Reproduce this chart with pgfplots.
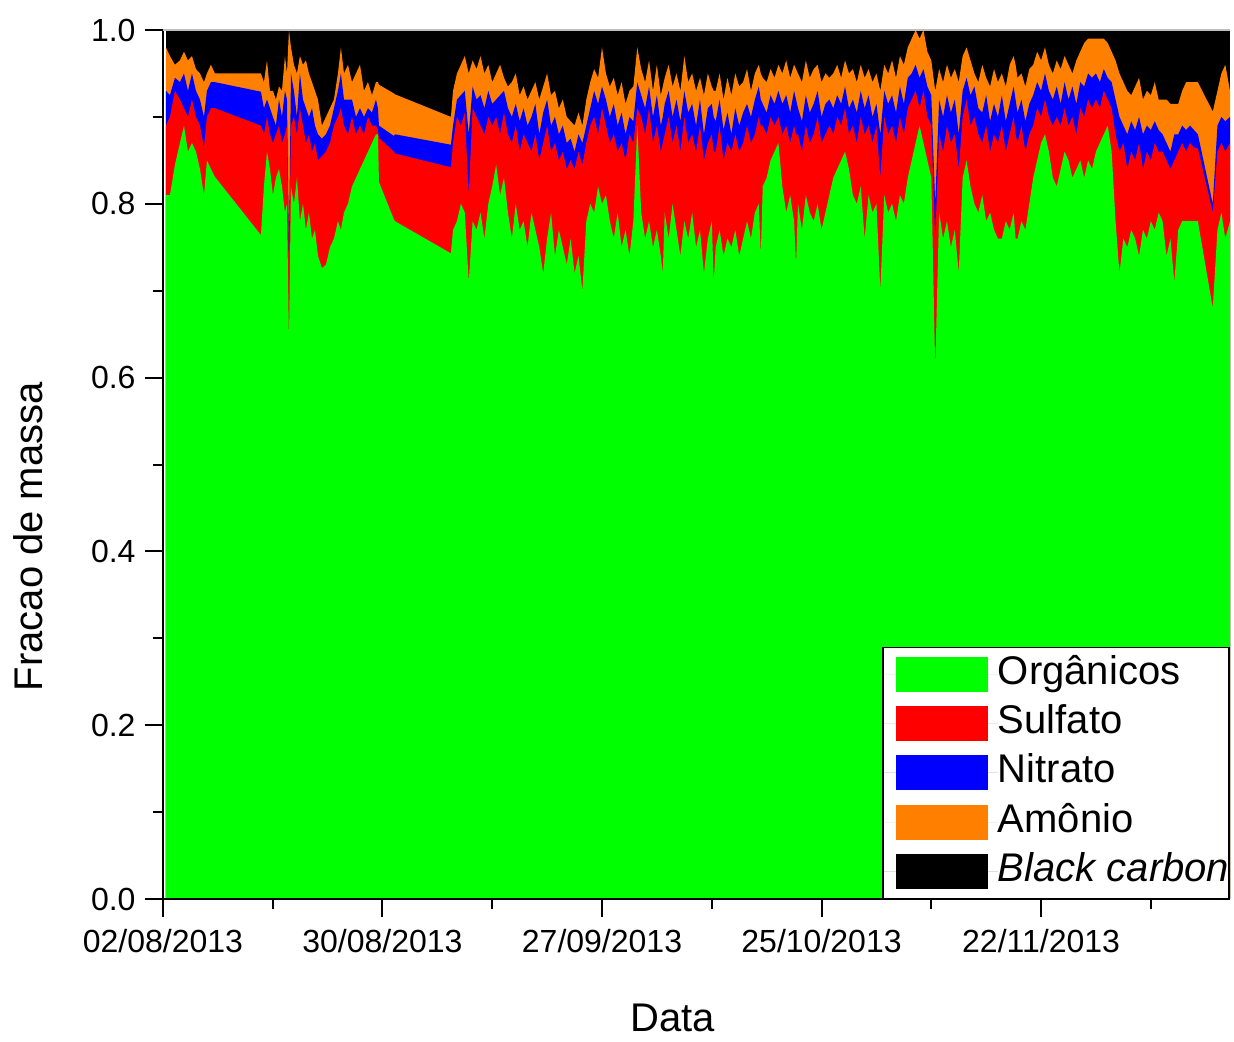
\documentclass[border=0pt]{standalone}
\usepackage{fontspec}
\setmainfont{Liberation Sans}
\usepackage{pgfplots}
\usepackage{pgfplotstable}
\pgfplotsset{compat=1.18}
\definecolor{cgreen}{RGB}{0,255,0}
\definecolor{cred}{RGB}{255,0,0}
\definecolor{cblue}{RGB}{0,0,255}
\definecolor{corange}{RGB}{255,128,0}
% d = days since 02/08/2013; G, R, B, O = cumulative tops of Organicos, +Sulfato, +Nitrato, +Amonio
\pgfplotstableread{
d G R B O
0.38 0.810 0.890 0.930 0.980
0.89 0.810 0.900 0.925 0.970
1.53 0.845 0.930 0.945 0.960
2.17 0.870 0.920 0.940 0.965
2.68 0.890 0.910 0.950 0.975
3.19 0.860 0.900 0.930 0.965
3.70 0.870 0.920 0.950 0.970
4.21 0.860 0.900 0.930 0.955
4.72 0.840 0.890 0.920 0.950
5.23 0.810 0.865 0.900 0.940
5.61 0.850 0.900 0.930 0.950
6.12 0.840 0.910 0.940 0.960
6.63 0.831 0.910 0.940 0.950
12.50 0.764 0.890 0.929 0.950
12.88 0.820 0.880 0.910 0.940
13.27 0.860 0.900 0.920 0.965
13.65 0.840 0.880 0.910 0.930
14.03 0.810 0.870 0.900 0.930
14.41 0.830 0.880 0.890 0.920
14.80 0.840 0.890 0.920 0.935
15.18 0.820 0.870 0.900 0.930
15.56 0.790 0.880 0.930 0.970
15.82 0.800 0.890 0.920 0.950
16.07 0.640 0.730 0.750 1.000
16.33 0.820 0.890 0.950 0.980
16.71 0.800 0.900 0.930 0.960
17.09 0.830 0.880 0.900 0.950
17.47 0.780 0.910 0.950 0.970
17.86 0.800 0.890 0.920 0.960
18.24 0.770 0.870 0.910 0.965
18.62 0.790 0.880 0.900 0.950
19.01 0.760 0.860 0.910 0.940
19.39 0.770 0.870 0.890 0.930
19.77 0.740 0.850 0.880 0.920
20.28 0.726 0.855 0.875 0.890
20.79 0.730 0.860 0.880 0.900
21.30 0.750 0.870 0.890 0.910
21.81 0.760 0.890 0.910 0.920
22.32 0.780 0.900 0.930 0.950
22.70 0.770 0.910 0.950 0.980
23.09 0.790 0.890 0.920 0.950
23.60 0.800 0.880 0.920 0.960
24.11 0.820 0.900 0.920 0.940
24.62 0.830 0.880 0.900 0.950
25.13 0.840 0.890 0.910 0.960
25.64 0.850 0.880 0.900 0.930
26.15 0.860 0.900 0.910 0.940
26.66 0.870 0.890 0.905 0.925
27.17 0.880 0.890 0.920 0.940
27.42 0.880 0.885 0.910 0.940
27.55 0.825 0.876 0.890 0.937
29.46 0.782 0.860 0.878 0.927
29.59 0.780 0.858 0.880 0.926
36.73 0.743 0.842 0.868 0.900
37.0 0.770 0.870 0.890 0.930
37.5 0.780 0.900 0.920 0.950
38.0 0.800 0.890 0.925 0.960
38.5 0.790 0.905 0.930 0.970
39.0 0.710 0.810 0.880 0.950
39.5 0.780 0.910 0.935 0.965
40.0 0.770 0.900 0.920 0.955
40.5 0.790 0.890 0.925 0.970
41.0 0.760 0.880 0.910 0.950
41.5 0.800 0.900 0.930 0.960
42.0 0.820 0.890 0.915 0.940
42.5 0.845 0.900 0.920 0.950
43.0 0.810 0.880 0.925 0.960
43.5 0.830 0.905 0.930 0.945
44.0 0.790 0.880 0.910 0.935
44.5 0.760 0.870 0.900 0.940
45.0 0.800 0.890 0.915 0.950
45.5 0.770 0.860 0.895 0.925
46.0 0.780 0.880 0.910 0.935
46.5 0.750 0.870 0.890 0.920
47.0 0.790 0.860 0.900 0.930
47.5 0.770 0.880 0.915 0.940
48.0 0.750 0.850 0.880 0.920
48.5 0.720 0.870 0.905 0.935
49.0 0.760 0.890 0.920 0.950
49.5 0.790 0.860 0.890 0.925
50.0 0.740 0.870 0.900 0.930
50.5 0.770 0.850 0.880 0.910
51.0 0.750 0.860 0.890 0.920
51.5 0.730 0.840 0.870 0.900
52.0 0.760 0.850 0.875 0.895
52.5 0.720 0.840 0.860 0.890
53.0 0.740 0.860 0.880 0.905
53.5 0.700 0.845 0.870 0.890
54.0 0.780 0.870 0.890 0.920
54.5 0.800 0.890 0.910 0.940
55.0 0.790 0.900 0.930 0.955
55.5 0.820 0.880 0.915 0.945
56.0 0.800 0.910 0.935 0.980
56.5 0.810 0.890 0.920 0.950
57.0 0.780 0.870 0.900 0.935
57.5 0.760 0.880 0.915 0.945
58.0 0.790 0.860 0.890 0.925
58.5 0.750 0.870 0.905 0.940
59.0 0.770 0.850 0.880 0.915
59.5 0.740 0.880 0.900 0.930
60.0 0.780 0.870 0.895 0.935
60.5 0.890 0.910 0.940 0.980
61.0 0.790 0.900 0.925 0.955
61.5 0.760 0.880 0.910 0.940
62.0 0.780 0.910 0.935 0.965
62.5 0.750 0.870 0.900 0.930
63.0 0.770 0.890 0.925 0.960
63.5 0.740 0.860 0.890 0.925
63.75 0.720 0.870 0.900 0.935
64.0 0.790 0.880 0.915 0.945
64.5 0.760 0.900 0.930 0.960
65.0 0.800 0.870 0.900 0.935
65.5 0.770 0.890 0.920 0.950
66.0 0.740 0.860 0.895 0.930
66.5 0.780 0.900 0.930 0.970
67.0 0.760 0.870 0.905 0.940
67.5 0.790 0.880 0.915 0.950
68.0 0.750 0.860 0.890 0.930
68.5 0.770 0.890 0.920 0.945
69.0 0.720 0.850 0.880 0.925
69.5 0.760 0.870 0.910 0.950
70.0 0.780 0.880 0.915 0.935
70.25 0.710 0.860 0.900 0.930
70.5 0.750 0.860 0.895 0.930
71.0 0.770 0.890 0.920 0.950
71.5 0.740 0.850 0.885 0.920
72.0 0.760 0.870 0.905 0.945
72.5 0.750 0.860 0.880 0.925
73.0 0.770 0.880 0.910 0.950
73.5 0.740 0.860 0.890 0.935
74.0 0.760 0.870 0.905 0.940
74.5 0.780 0.890 0.915 0.955
75.0 0.760 0.870 0.900 0.930
75.5 0.790 0.880 0.920 0.950
76.0 0.800 0.900 0.935 0.960
76.25 0.740 0.890 0.920 0.950
76.5 0.820 0.890 0.915 0.945
77.0 0.830 0.880 0.905 0.940
77.5 0.850 0.900 0.925 0.955
78.0 0.860 0.890 0.915 0.945
78.5 0.870 0.900 0.930 0.960
79.0 0.820 0.880 0.915 0.950
79.5 0.790 0.890 0.925 0.965
80.0 0.810 0.870 0.905 0.945
80.5 0.780 0.890 0.930 0.960
80.75 0.730 0.880 0.920 0.955
81.0 0.800 0.880 0.910 0.950
81.5 0.770 0.860 0.895 0.940
82.0 0.810 0.890 0.925 0.965
82.5 0.790 0.870 0.905 0.945
83.0 0.780 0.880 0.915 0.955
83.5 0.800 0.900 0.930 0.960
84.0 0.770 0.870 0.900 0.940
84.5 0.790 0.880 0.915 0.950
85.0 0.810 0.890 0.920 0.945
85.5 0.830 0.880 0.910 0.950
86.0 0.840 0.900 0.925 0.960
86.5 0.850 0.890 0.915 0.945
87.0 0.860 0.910 0.935 0.965
87.5 0.840 0.880 0.910 0.950
88.0 0.810 0.890 0.920 0.955
88.5 0.800 0.870 0.905 0.940
89.0 0.820 0.900 0.930 0.960
89.5 0.760 0.880 0.910 0.945
90.0 0.810 0.890 0.925 0.955
90.5 0.790 0.870 0.900 0.940
91.0 0.800 0.890 0.915 0.950
91.5 0.700 0.830 0.880 0.930
92.0 0.810 0.900 0.930 0.960
92.5 0.790 0.880 0.915 0.950
93.0 0.800 0.890 0.925 0.965
93.5 0.780 0.870 0.905 0.945
94.0 0.810 0.900 0.935 0.970
94.5 0.800 0.880 0.915 0.960
95.0 0.830 0.910 0.945 0.980
95.5 0.850 0.920 0.950 0.990
96.0 0.870 0.930 0.960 1.000
96.5 0.890 0.910 0.945 0.990
97.0 0.870 0.930 0.955 1.000
97.5 0.850 0.900 0.935 0.975
98.0 0.830 0.890 0.925 0.965
98.5 0.610 0.760 0.800 0.930
99.0 0.790 0.880 0.920 0.955
99.5 0.760 0.860 0.900 0.940
100.0 0.780 0.890 0.925 0.960
100.5 0.750 0.870 0.905 0.945
101.0 0.770 0.880 0.920 0.955
101.5 0.720 0.840 0.880 0.940
102.0 0.830 0.900 0.930 0.970
102.5 0.850 0.920 0.945 0.980
103.0 0.820 0.890 0.925 0.965
103.5 0.800 0.900 0.935 0.950
104.0 0.790 0.880 0.910 0.940
104.5 0.810 0.870 0.905 0.960
105.0 0.780 0.890 0.925 0.945
105.5 0.790 0.860 0.895 0.935
106.0 0.770 0.880 0.915 0.955
106.5 0.760 0.870 0.900 0.940
107.0 0.760 0.890 0.925 0.950
107.5 0.780 0.860 0.895 0.935
108.0 0.770 0.880 0.915 0.960
108.5 0.790 0.900 0.935 0.970
108.75 0.760 0.880 0.920 0.960
109.0 0.760 0.870 0.905 0.945
109.5 0.780 0.890 0.920 0.950
110.0 0.770 0.860 0.895 0.935
110.5 0.800 0.880 0.915 0.955
111.0 0.830 0.890 0.925 0.960
111.5 0.850 0.910 0.940 0.975
112.0 0.870 0.900 0.930 0.965
112.5 0.880 0.920 0.950 0.980
113.0 0.860 0.900 0.930 0.960
113.5 0.830 0.890 0.920 0.950
114.0 0.820 0.900 0.935 0.965
114.5 0.840 0.890 0.915 0.955
115.0 0.860 0.910 0.940 0.970
115.5 0.850 0.890 0.920 0.960
116.0 0.830 0.900 0.935 0.950
116.5 0.840 0.880 0.915 0.965
117.0 0.850 0.910 0.940 0.975
117.5 0.830 0.900 0.935 0.985
118.0 0.850 0.920 0.950 0.990
118.5 0.840 0.910 0.945 0.990
119.0 0.860 0.920 0.950 0.990
119.5 0.870 0.910 0.940 0.990
120.0 0.880 0.930 0.955 0.990
120.5 0.890 0.920 0.945 0.985
121.0 0.860 0.910 0.940 0.975
121.5 0.780 0.880 0.920 0.965
122.0 0.720 0.860 0.900 0.950
122.5 0.760 0.870 0.890 0.940
123.0 0.750 0.840 0.880 0.930
123.5 0.770 0.860 0.895 0.925
124.0 0.760 0.850 0.885 0.935
124.5 0.740 0.870 0.900 0.945
125.0 0.770 0.840 0.880 0.920
125.5 0.760 0.860 0.890 0.930
126.0 0.780 0.850 0.885 0.925
126.5 0.770 0.870 0.895 0.940
127.0 0.790 0.860 0.885 0.920
127.5 0.780 0.860 0.880 0.920
128.0 0.740 0.850 0.870 0.920
128.5 0.760 0.840 0.860 0.915
129.0 0.710 0.850 0.880 0.915
129.5 0.770 0.860 0.880 0.915
130.0 0.780 0.870 0.890 0.930
130.5 0.780 0.860 0.885 0.940
131.0 0.780 0.870 0.890 0.940
131.5 0.780 0.865 0.885 0.940
132.0 0.780 0.864 0.880 0.940
133.9 0.680 0.790 0.800 0.906
134.5 0.770 0.860 0.890 0.930
135.0 0.790 0.870 0.900 0.950
135.5 0.760 0.860 0.895 0.960
136.1 0.780 0.870 0.900 0.930
}\data
\begin{document}
\begin{tikzpicture}
\begin{axis}[name=ax, scale only axis, width=400.1pt, height=325.9pt,
  xmin=0, xmax=136.1, ymin=0, ymax=1,
  axis x line*=bottom, axis y line*=left,
  axis line style={line width=0.75pt, black},
  tick align=outside, major tick length=6.75pt, minor tick length=3.8pt,
  tick style={line width=0.75pt, black},
  xtick={0,28,56,84,112},
  xticklabels={02/08/2013,30/08/2013,27/09/2013,25/10/2013,22/11/2013},
  minor xtick={14,42,70,98,126},
  ytick={0,0.2,0.4,0.6,0.8,1.0}, minor ytick={0.1,0.3,0.5,0.7,0.9},
  yticklabel style={/pgf/number format/.cd, fixed, fixed zerofill, precision=1},
  xticklabel style={yshift=-1pt},
  /pgf/number format/assume math mode=true,
  ticklabel style={font=\fontsize{12}{14}\selectfont},
  xlabel={Data}, ylabel={Fracao de massa},
  every axis x label/.style={at={(axis description cs:0.478,-0.137)}, anchor=center, font=\fontsize{15}{18}\selectfont},
  every axis y label/.style={at={(axis description cs:-0.1265,0.417)}, rotate=90, anchor=center, font=\fontsize{15}{18}\selectfont},
  axis on top,
  legend style={at={(1,0)}, anchor=south east, draw=black, line width=0.6pt,
    font=\fontsize{15}{18}\selectfont, inner xsep=0pt, inner ysep=1.3pt, row sep=1pt,
    nodes={inner xsep=0pt, inner ysep=1.5pt, text height=11pt, text depth=3.5pt}},
  legend cell align=left,
  legend image code/.code={\path (0pt,0pt) -- (43.1pt,0pt); \fill[#1] (4.9pt,-6.6pt) rectangle (39.4pt,6.6pt);},
]
\addlegendimage{fill=cgreen, draw=none}
\addlegendentry{Orgânicos}
\addlegendimage{fill=cred, draw=none}
\addlegendentry{Sulfato}
\addlegendimage{fill=cblue, draw=none}
\addlegendentry{Nitrato}
\addlegendimage{fill=corange, draw=none}
\addlegendentry{Amônio}
\addlegendimage{fill=black, draw=none}
\addlegendentry{\textit{Black carbon}}
\addplot[fill=black, draw=none, forget plot] coordinates {(0.38,1) (136.1,1)} \closedcycle;
\addplot[fill=corange, draw=none, forget plot] table[x=d, y=O] {\data} \closedcycle;
\addplot[fill=cblue, draw=none, forget plot] table[x=d, y=B] {\data} \closedcycle;
\addplot[fill=cred, draw=none, forget plot] table[x=d, y=R] {\data} \closedcycle;
\addplot[fill=cgreen, draw=none, forget plot] table[x=d, y=G] {\data} \closedcycle;
\end{axis}
\draw[gray!50, line width=0.4pt] (ax.north west) -- (ax.north east);
\path ([xshift=-61.1pt,yshift=-51.4pt]ax.south west) rectangle ([xshift=1.5pt,yshift=11.25pt]ax.north east);
\end{tikzpicture}
\end{document}
